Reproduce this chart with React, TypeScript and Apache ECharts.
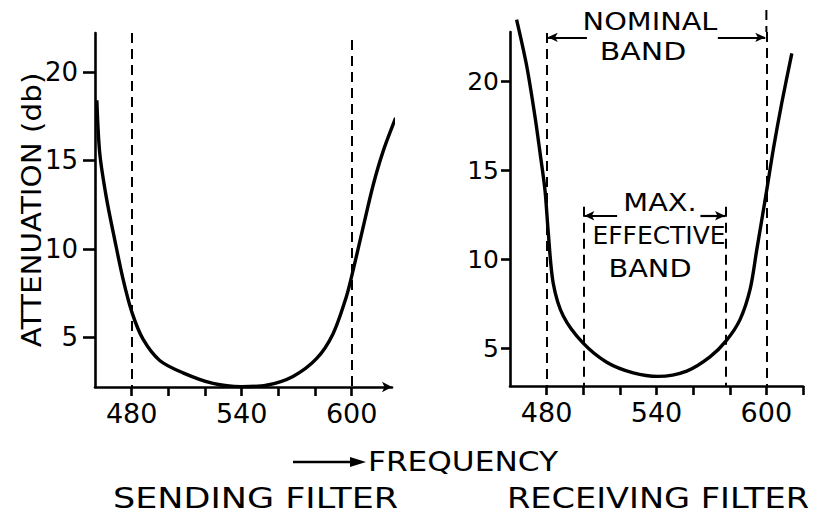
import React, { useEffect, useRef } from "react";
import * as echarts from "echarts";

// Sending filter curve (frequency, attenuation in db)
const sendFreq = [461, 462.6, 466.2, 470.8, 475.3, 480.2, 486.2, 495.3, 508, 524.4, 539.9, 553.5, 568, 580.8, 589.8, 597.1, 600.8, 606.2, 611.7, 617.1, 624];
const sendAtten = [18.4, 15.4, 12.9, 10.5, 8.3, 6.4, 4.9, 3.7, 3.0, 2.4, 2.22, 2.3, 2.8, 3.8, 5.2, 7.3, 8.8, 11.2, 13.6, 15.5, 17.4];

// Receiving filter curve
const recvFreq = [463.6, 469.1, 473.7, 476.4, 479.1, 480.9, 483.6, 489.1, 499.7, 512.8, 527.3, 541, 556.5, 569.2, 578, 585.6, 591.1, 594.7, 600.2, 603.8, 608.4, 613.9];
const recvAtten = [23.5, 20.9, 18.0, 16.0, 13.9, 11.5, 8.65, 6.8, 5.3, 4.2, 3.6, 3.4, 3.7, 4.5, 5.4, 6.6, 8.3, 10.5, 13.9, 16.2, 18.8, 21.6];

// Axis values
const yTickValues = [5, 10, 15, 20];
const xLabelValues = [480, 540, 600];
const xTickValuesSend = [480, 500, 520, 540, 560, 580, 600];
const xTickValuesRecv = [480, 500, 520, 540, 560, 580, 600, 620];

// Bands
const sendingBand = [480, 600];
const nominalBand = [480, 600];
const effectiveBand = [500, 578];

const FONT = '"DejaVu Sans", Verdana, sans-serif';

function pairs(xs: number[], ys: number[]) {
  return xs.map((x, i) => [x, ys[i]]);
}

function txt(text: string, x: number, y: number, size: number, sx: number, align = "center", rotation = 0) {
  return {
    type: "text",
    x,
    y,
    rotation,
    scaleX: sx,
    silent: true,
    style: {
      text,
      fill: "#000",
      fontSize: size,
      fontFamily: FONT,
      textAlign: align,
      align,
      textVerticalAlign: "middle",
      verticalAlign: "middle",
    },
  };
}

export default function App() {
  const ref = useRef<HTMLDivElement>(null);

  useEffect(() => {
    if (!ref.current) return;
    const chart = echarts.init(ref.current, undefined, { renderer: "svg" });

    const axisLineStyle = { color: "#000", width: 2.6 };
    const dash = { type: [10, 6] as any, width: 2, color: "#000" };
    const arrowStyle = { type: "solid", width: 2.2, color: "#000" };

    const xAxisCommon = (gridIndex: number, min: number, max: number, ticks: number[], arrow: boolean) => ({
      type: "value",
      gridIndex,
      min,
      max,
      splitLine: { show: false },
      axisLine: {
        show: true,
        onZero: false,
        lineStyle: axisLineStyle,
        symbol: arrow ? ["none", "arrow"] : ["none", "none"],
        symbolSize: [8, 10],
      },
      axisTick: { show: true, inside: false, length: 9, lineStyle: axisLineStyle, customValues: ticks },
      axisLabel: {
        show: true,
        customValues: xLabelValues,
        color: "#000",
        fontSize: 27,
        fontFamily: FONT,
        margin: 13,
      },
    });

    const yAxisCommon = (gridIndex: number, min: number, max: number, tickLen: number, margin: number, size: number) => ({
      type: "value",
      gridIndex,
      min,
      max,
      splitLine: { show: false },
      axisLine: { show: true, onZero: false, lineStyle: axisLineStyle },
      axisTick: { show: true, inside: false, length: tickLen, lineStyle: axisLineStyle, customValues: yTickValues },
      axisLabel: {
        show: true,
        customValues: yTickValues,
        color: "#000",
        fontSize: size,
        fontFamily: FONT,
        margin,
      },
    });

    const option: any = {
      animation: false,
      backgroundColor: "#fff",
      grid: [
        { left: 95, top: 33, width: 297, height: 354, containLabel: false, outerBoundsMode: "none" },
        { left: 510, top: 32, width: 293, height: 354, containLabel: false, outerBoundsMode: "none" },
      ],
      xAxis: [
        xAxisCommon(0, 460, 622, xTickValuesSend, true),
        xAxisCommon(1, 460, 620, xTickValuesRecv, false),
      ],
      yAxis: [yAxisCommon(0, 2.2, 22.2, 12, 17, 26), yAxisCommon(1, 2.86, 22.8, 9, 11, 25)],
      series: [
        {
          name: "Sending filter",
          type: "line",
          xAxisIndex: 0,
          yAxisIndex: 0,
          data: pairs(sendFreq, sendAtten),
          smooth: 0.3,
          symbol: "none",
          showSymbol: false,
          clip: false,
          silent: true,
          lineStyle: { color: "#000", width: 3.4 },
          markLine: {
            silent: true,
            symbol: ["none", "none"],
            label: { show: false },
            lineStyle: dash,
            data: [
              [{ coord: [sendingBand[0], 22.2] }, { coord: [sendingBand[0], 2.2] }],
              [{ coord: [sendingBand[1], 21.8] }, { coord: [sendingBand[1], 2.2] }],
            ],
          },
        },
        {
          name: "Receiving filter",
          type: "line",
          xAxisIndex: 1,
          yAxisIndex: 1,
          data: pairs(recvFreq, recvAtten),
          smooth: 0.3,
          symbol: "none",
          showSymbol: false,
          clip: false,
          silent: true,
          lineStyle: { color: "#000", width: 3.4 },
          markLine: {
            silent: true,
            symbol: ["none", "none"],
            label: { show: false },
            lineStyle: dash,
            data: [
              [{ coord: [nominalBand[0], 22.75] }, { coord: [nominalBand[0], 2.86] }],
              [{ coord: [nominalBand[1], 22.8] }, { coord: [nominalBand[1], 2.86] }],
              [{ coord: [effectiveBand[0], 12.95] }, { coord: [effectiveBand[0], 2.86] }],
              [{ coord: [effectiveBand[1], 12.95] }, { coord: [effectiveBand[1], 2.86] }],
              [
                { coord: [502, 22.5], symbol: "none", lineStyle: arrowStyle },
                { coord: [nominalBand[0] + 0.6, 22.5], symbol: "arrow", symbolSize: [7, 10] },
              ],
              [
                { coord: [573.5, 22.5], symbol: "none", lineStyle: arrowStyle },
                { coord: [nominalBand[1] - 0.6, 22.5], symbol: "arrow", symbolSize: [7, 10] },
              ],
              [
                { coord: [518.5, 12.45], symbol: "none", lineStyle: arrowStyle },
                { coord: [effectiveBand[0] + 0.6, 12.45], symbol: "arrow", symbolSize: [7, 10] },
              ],
              [
                { coord: [564, 12.45], symbol: "none", lineStyle: arrowStyle },
                { coord: [effectiveBand[1] - 0.6, 12.45], symbol: "arrow", symbolSize: [7, 10] },
              ],
            ],
          },
        },
      ],
      graphic: [
        txt("ATTENUATION (db)", 32, 210, 27, 1.09, "center", Math.PI / 2),
        txt("NOMINAL", 650, 21, 24, 1.2),
        txt("BAND", 643, 52, 24, 1.25),
        txt("MAX.", 660, 202, 24, 1.2),
        txt("EFFECTIVE", 659, 236, 24, 1.04),
        txt("BAND", 650, 268, 24, 1.2),
        {
          type: "line",
          silent: true,
          shape: { x1: 293, y1: 462, x2: 356, y2: 462 },
          style: { stroke: "#000", lineWidth: 2.4 },
        },
        {
          type: "polygon",
          silent: true,
          shape: { points: [[350, 457], [366, 462], [350, 467]] },
          style: { fill: "#000" },
        },
        txt("FREQUENCY", 368, 462, 26, 1.2, "left"),
        txt("SENDING FILTER", 113, 498, 28, 1.25, "left"),
        txt("RECEIVING FILTER", 507, 498, 28, 1.2, "left"),
      ],
    };

    chart.setOption(option);

    // extend the nominal band's upper dashed line above the plot frame, positioned via the axis scale
    const top = chart.convertToPixel({ gridIndex: 1 }, [nominalBand[1], 22.8]) as number[];
    if (top && isFinite(top[0])) {
      chart.setOption({
        graphic: [
          {
            id: "nominalExt",
            type: "line",
            silent: true,
            shape: { x1: top[0], y1: 10, x2: top[0], y2: top[1] },
            style: { stroke: "#000", lineWidth: 2, lineDash: [10, 6] },
          },
        ],
      });
    }

    return () => chart.dispose();
  }, []);

  return (
    <div
      ref={ref}
      style={{ position: "absolute", left: 0, top: 0, width: 822, height: 522, background: "#fff" }}
    />
  );
}
